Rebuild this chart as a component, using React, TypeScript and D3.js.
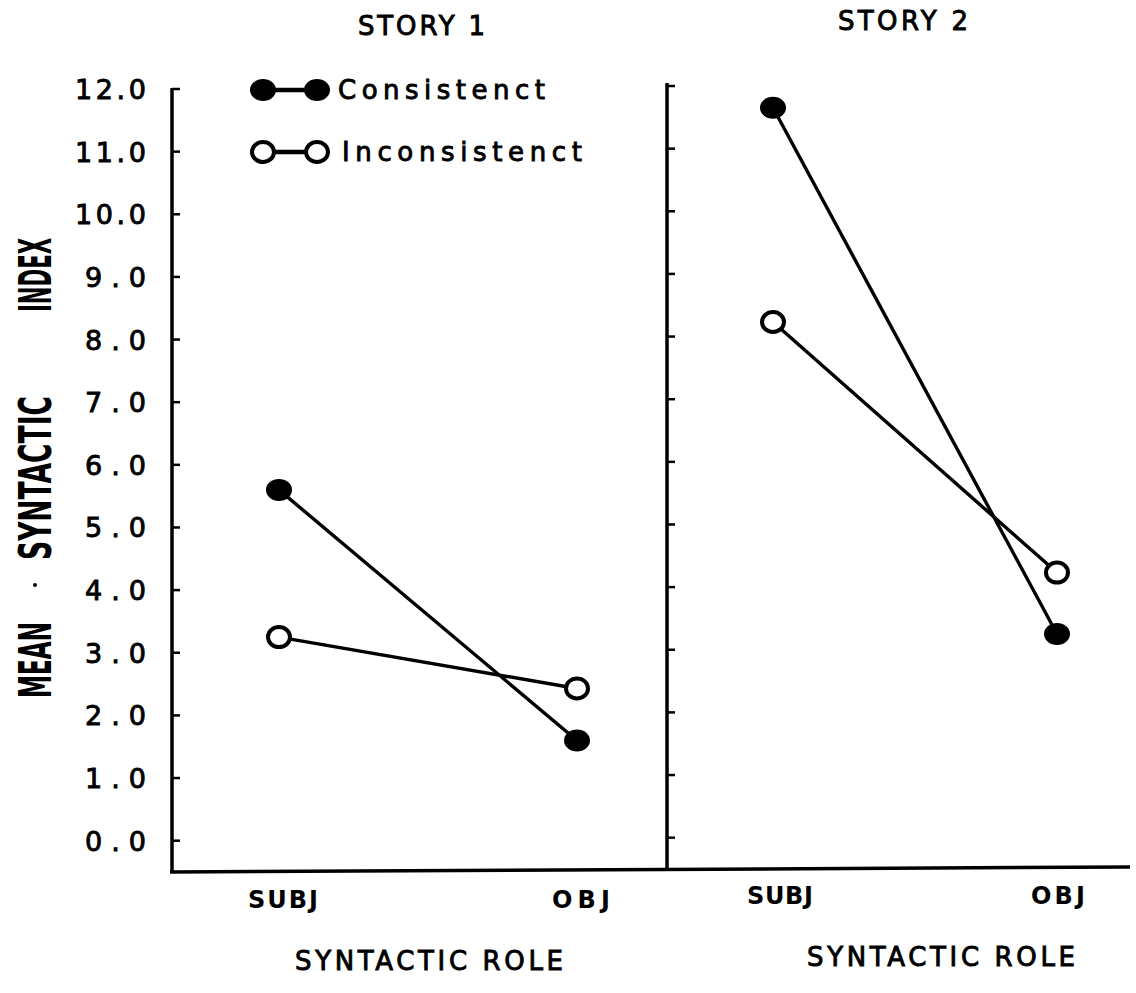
import * as d3 from "d3";

// values
const roles = ["SUBJ", "OBJ"];
const stories = ["STORY 1", "STORY 2"];
const conditions = ["Consistenct", "Inconsistenct"];
const consistentStory1 = [5.6, 1.6];
const inconsistentStory1 = [3.25, 2.43];
const consistentStory2 = [11.7, 3.3];
const inconsistentStory2 = [8.28, 4.28];
const yTicks = [0, 1, 2, 3, 4, 5, 6, 7, 8, 9, 10, 11, 12];
const yAxisWords = ["MEAN", "SYNTACTIC", "INDEX"];
const xAxisTitle = "SYNTACTIC ROLE";

const W = 1136;
const H = 993;
const font = "'DejaVu Sans', sans-serif";
const ink = "#000";

const y = d3.scaleLinear().domain([-0.5, 12]).range([872, 89]);

const panels = [
  {
    title: stories[0],
    axisX: 172,
    x: d3.scalePoint<string>().domain(roles).range([279, 577]),
    series: [consistentStory1, inconsistentStory1],
    titleX: 358,
    titleLen: 127,
    titleY: 35,
    tickLabelX: [283, 581],
    tickLabelY: 908,
    tickLen: [70, 58],
    roleTitleX: 295,
    roleTitleY: 970,
  },
  {
    title: stories[1],
    axisX: 667,
    x: d3.scalePoint<string>().domain(roles).range([773, 1057]),
    series: [consistentStory2, inconsistentStory2],
    titleX: 838,
    titleLen: 130,
    titleY: 30,
    tickLabelX: [780, 1058],
    tickLabelY: 904,
    tickLen: [66, 54],
    roleTitleX: 807,
    roleTitleY: 966,
  },
];

// heavier "typewriter" look of the scanned lettering
const heavy = { stroke: ink, strokeWidth: 0.9 };

function Marker({ cx, cy, filled }: { cx: number; cy: number; filled: boolean }) {
  return filled ? (
    <ellipse cx={cx} cy={cy} rx={13} ry={11} fill={ink} />
  ) : (
    <ellipse cx={cx} cy={cy} rx={11} ry={10} fill="#fff" stroke={ink} strokeWidth={4} />
  );
}

export default function App() {
  const line = d3
    .line<[number, number]>()
    .x((d) => d[0])
    .y((d) => d[1]);

  return (
    <svg
      width={W}
      height={H}
      viewBox={`0 0 ${W} ${H}`}
      style={{ position: "absolute", left: 0, top: 0, background: "#fff" }}
      fontFamily={font}
    >
      <rect width={W} height={H} fill="#fff" />

      {/* y axis title, rotated words */}
      {yAxisWords.map((w, i) => {
        const centers = [660, 478, 275];
        const lens = [76, 164, 74];
        return (
          <text
            key={w}
            transform={`translate(51,${centers[i]}) rotate(-90)`}
            textAnchor="middle"
            fontFamily="'DejaVu Sans Condensed', 'DejaVu Sans', sans-serif"
            fontWeight="bold"
            fontSize={44}
            textLength={lens[i]}
            lengthAdjust="spacingAndGlyphs"
            fill={ink}
          >
            {w}
          </text>
        );
      })}
      <circle cx={35} cy={585} r={2} fill={ink} />

      {/* y tick labels */}
      {yTicks.map((t) => (
        <text
          key={t}
          x={146}
          y={y(t) + 10}
          textAnchor="end"
          fontSize={27}
          textLength={t >= 10 ? 71 : 61}
          lengthAdjust="spacing"
          fill={ink}
          {...heavy}
        >
          {d3.format(".1f")(t)}
        </text>
      ))}

      {/* baseline */}
      <line x1={170} x2={1130} y1={y(-0.5)} y2={y(-0.5) - 5} stroke={ink} strokeWidth={3.5} />

      {panels.map((p, pi) => (
        <g key={p.title}>
          <text
            x={p.titleX}
            y={p.titleY}
            fontSize={26}
            textLength={p.titleLen}
            lengthAdjust="spacing"
            fill={ink}
            {...heavy}
          >
            {p.title}
          </text>

          {/* vertical axis */}
          <line
            x1={p.axisX}
            x2={p.axisX}
            y1={y(12) - (pi ? 6 : 1)}
            y2={y(-0.5) - (pi ? 3 : 0)}
            stroke={ink}
            strokeWidth={3.5}
          />
          {yTicks.map((t) => (
            <line
              key={t}
              x1={p.axisX}
              x2={p.axisX + 8}
              y1={y(t) - (pi ? 3 : 0)}
              y2={y(t) - (pi ? 3 : 0)}
              stroke={ink}
              strokeWidth={2.5}
            />
          ))}

          {/* x tick labels */}
          {roles.map((r, ri) => (
            <text
              key={r}
              x={p.tickLabelX[ri]}
              y={p.tickLabelY}
              textAnchor="middle"
              fontSize={24}
              fontWeight="bold"
              textLength={p.tickLen[ri]}
              lengthAdjust="spacing"
              fill={ink}
            >
              {r}
            </text>
          ))}
          <text
            x={p.roleTitleX}
            y={p.roleTitleY}
            fontSize={26}
            textLength={268}
            lengthAdjust="spacing"
            fill={ink}
            {...heavy}
          >
            {xAxisTitle}
          </text>

          {/* series */}
          {p.series.map((vals, si) => {
            const pts = roles.map((r, ri) => [p.x(r) as number, y(vals[ri])] as [number, number]);
            return (
              <g key={si}>
                <path d={line(pts) || ""} fill="none" stroke={ink} strokeWidth={3.4} />
                {pts.map((pt, k) => (
                  <Marker key={k} cx={pt[0]} cy={pt[1]} filled={si === 0} />
                ))}
              </g>
            );
          })}
        </g>
      ))}

      {/* legend */}
      {conditions.map((c, i) => {
        const ly = [90, 152][i];
        return (
          <g key={c}>
            <line x1={263} x2={317} y1={ly} y2={ly} stroke={ink} strokeWidth={4.5} />
            <Marker cx={263} cy={ly} filled={i === 0} />
            <Marker cx={317} cy={ly} filled={i === 0} />
            <text
              x={i === 0 ? 338 : 342}
              y={ly + 9}
              fontSize={26}
              textLength={i === 0 ? 207 : 240}
              lengthAdjust="spacing"
              fill={ink}
              {...heavy}
            >
              {c}
            </text>
          </g>
        );
      })}
    </svg>
  );
}
